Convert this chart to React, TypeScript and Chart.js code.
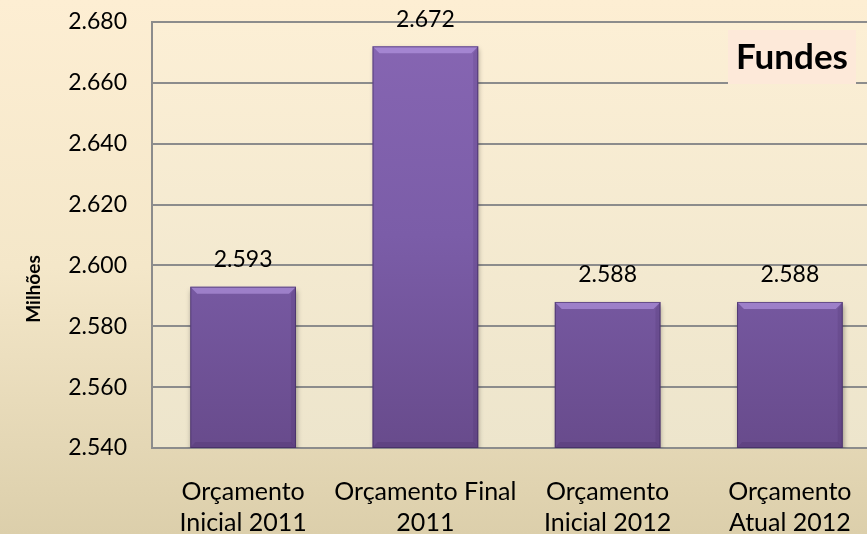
import React, { useEffect, useRef } from "react";
import { Chart, registerables } from "chart.js";

Chart.register(...registerables);

const categories: string[][] = [
  ["Orçamento", "Inicial 2011"],
  ["Orçamento Final", "2011"],
  ["Orçamento", "Inicial 2012"],
  ["Orçamento", "Atual 2012"],
];
const values: number[] = [2593, 2672, 2588, 2588];
const yMin = 2540;
const yMax = 2680;
const yStep = 20;
const axisTitle = "Milhões";
const boxTitle = "Fundes";

const FONT = "Lato, 'Open Sans', sans-serif";

function fmt(v: number): string {
  const n = Math.round(v);
  const th = Math.floor(n / 1000);
  const rest = String(n % 1000).padStart(3, "0");
  return th > 0 ? `${th}.${rest}` : String(n);
}

const decorPlugin = {
  id: "decor",
  beforeDraw(chart: any) {
    const { ctx, chartArea } = chart;
    const g = ctx.createLinearGradient(0, chartArea.top, 0, chartArea.bottom);
    g.addColorStop(0, "#fcefd5");
    g.addColorStop(1, "#ede5cc");
    ctx.save();
    ctx.fillStyle = g;
    ctx.fillRect(chartArea.left, chartArea.top, chartArea.right - chartArea.left, chartArea.bottom - chartArea.top);
    ctx.restore();
  },
  beforeDatasetsDraw(chart: any) {
    const ctx = chart.ctx;
    ctx.save();
    ctx.shadowColor = "rgba(0,0,0,0.35)";
    ctx.shadowBlur = 5;
    ctx.shadowOffsetX = 1;
    ctx.shadowOffsetY = 3;
  },
  afterDatasetsDraw(chart: any) {
    const ctx = chart.ctx;
    ctx.restore();
    const meta = chart.getDatasetMeta(0);
    const area = chart.chartArea;
    ctx.save();
    meta.data.forEach((bar: any, i: number) => {
      const half = bar.width / 2;
      const l = bar.x - half;
      const r = bar.x + half;
      const t = bar.y;
      const b = Math.min(bar.base, area.bottom);
      // top bevel
      ctx.fillStyle = "rgba(190,160,235,0.55)";
      ctx.beginPath();
      ctx.moveTo(l, t);
      ctx.lineTo(r, t);
      ctx.lineTo(r - 7, t + 7);
      ctx.lineTo(l + 7, t + 7);
      ctx.closePath();
      ctx.fill();
      // side bevels
      ctx.fillStyle = "rgba(60,35,90,0.15)";
      ctx.beginPath();
      ctx.moveTo(r, t);
      ctx.lineTo(r, b);
      ctx.lineTo(r - 5, b - 5);
      ctx.lineTo(r - 5, t + 7);
      ctx.closePath();
      ctx.fill();
      ctx.fillStyle = "rgba(60,35,90,0.2)";
      ctx.beginPath();
      ctx.moveTo(l, b);
      ctx.lineTo(r, b);
      ctx.lineTo(r - 5, b - 6);
      ctx.lineTo(l + 5, b - 6);
      ctx.closePath();
      ctx.fill();
      ctx.strokeStyle = "rgba(60,40,90,0.6)";
      ctx.lineWidth = 1;
      ctx.strokeRect(l + 0.5, t + 0.5, bar.width - 1, b - t - 1);
      // value label
      ctx.fillStyle = "#000";
      ctx.font = `23px ${FONT}`;
      ctx.textAlign = "center";
      ctx.textBaseline = "middle";
      ctx.fillText(fmt(values[i]), bar.x, t - 27);
    });
    ctx.restore();
  },
  afterDraw(chart: any) {
    const ctx = chart.ctx;
    ctx.save();
    // Title box
    ctx.fillStyle = "#fde9d9";
    ctx.fillRect(728, 30, 128, 54);
    ctx.fillStyle = "#000";
    ctx.font = `bold 35px ${FONT}`;
    ctx.textAlign = "center";
    ctx.textBaseline = "middle";
    ctx.fillText(boxTitle, 792, 58);
    // Axis title
    ctx.translate(34, 289);
    ctx.rotate(-Math.PI / 2);
    ctx.font = `bold 19px ${FONT}`;
    ctx.fillText(axisTitle, 0, 0);
    ctx.restore();
  },
};

export default function App() {
  const ref = useRef<HTMLCanvasElement | null>(null);
  useEffect(() => {
    const canvas = ref.current!;
    const chart = new Chart(canvas, {
      type: "bar",
      data: {
        labels: categories,
        datasets: [
          {
            data: values,
            backgroundColor: (c: any) => {
              const ch = c.chart;
              const area = ch.chartArea;
              if (!area) return "#8064a2";
              const g = ch.ctx.createLinearGradient(0, area.top, 0, area.bottom);
              g.addColorStop(0, "#8766b3");
              g.addColorStop(0.5, "#7b5da8");
              g.addColorStop(1, "#684b8c");
              return g;
            },
            borderWidth: 0,
            barPercentage: 0.58,
            categoryPercentage: 1,
          },
        ],
      },
      options: {
        responsive: false,
        animation: false,
        layout: { padding: { top: 22, right: 19, left: 0, bottom: 0 } },
        plugins: {
          legend: { display: false },
          tooltip: { enabled: false },
          title: { display: false },
        },
        scales: {
          x: {
            grid: { display: false, drawTicks: false },
            border: { display: true, color: "#8c8c8c", width: 2 },
            ticks: {
              color: "#000",
              padding: 28,
              maxRotation: 0,
              autoSkip: false,
              font: { family: FONT, size: 25, lineHeight: 1.25 },
            },
            afterFit: (s: any) => {
              s.height = 86;
              s.paddingLeft = 0;
              s.paddingRight = 0;
            },
          },
          y: {
            min: yMin,
            max: yMax,
            ticks: {
              stepSize: yStep,
              color: "#000",
              padding: 25,
              font: { family: FONT, size: 23 },
              callback: (v: any) => fmt(Number(v)),
            },
            grid: { color: "#8c8c8c", lineWidth: 2, drawTicks: false },
            border: { display: true, color: "#8c8c8c", width: 2 },
            afterFit: (s: any) => {
              s.width = 152;
              s.paddingTop = 0;
              s.paddingBottom = 0;
            },
          },
        },
      },
      plugins: [decorPlugin],
    });
    return () => chart.destroy();
  }, []);
  return (
    <div
      style={{
        position: "fixed",
        left: 0,
        top: 0,
        width: 867,
        height: 534,
        overflow: "hidden",
        background: "linear-gradient(to bottom, #fdeed3 0%, #f4e7c9 50%, #dccfab 100%)",
      }}
    >
      <canvas ref={ref} width={900} height={534} style={{ display: "block" }} />
    </div>
  );
}
